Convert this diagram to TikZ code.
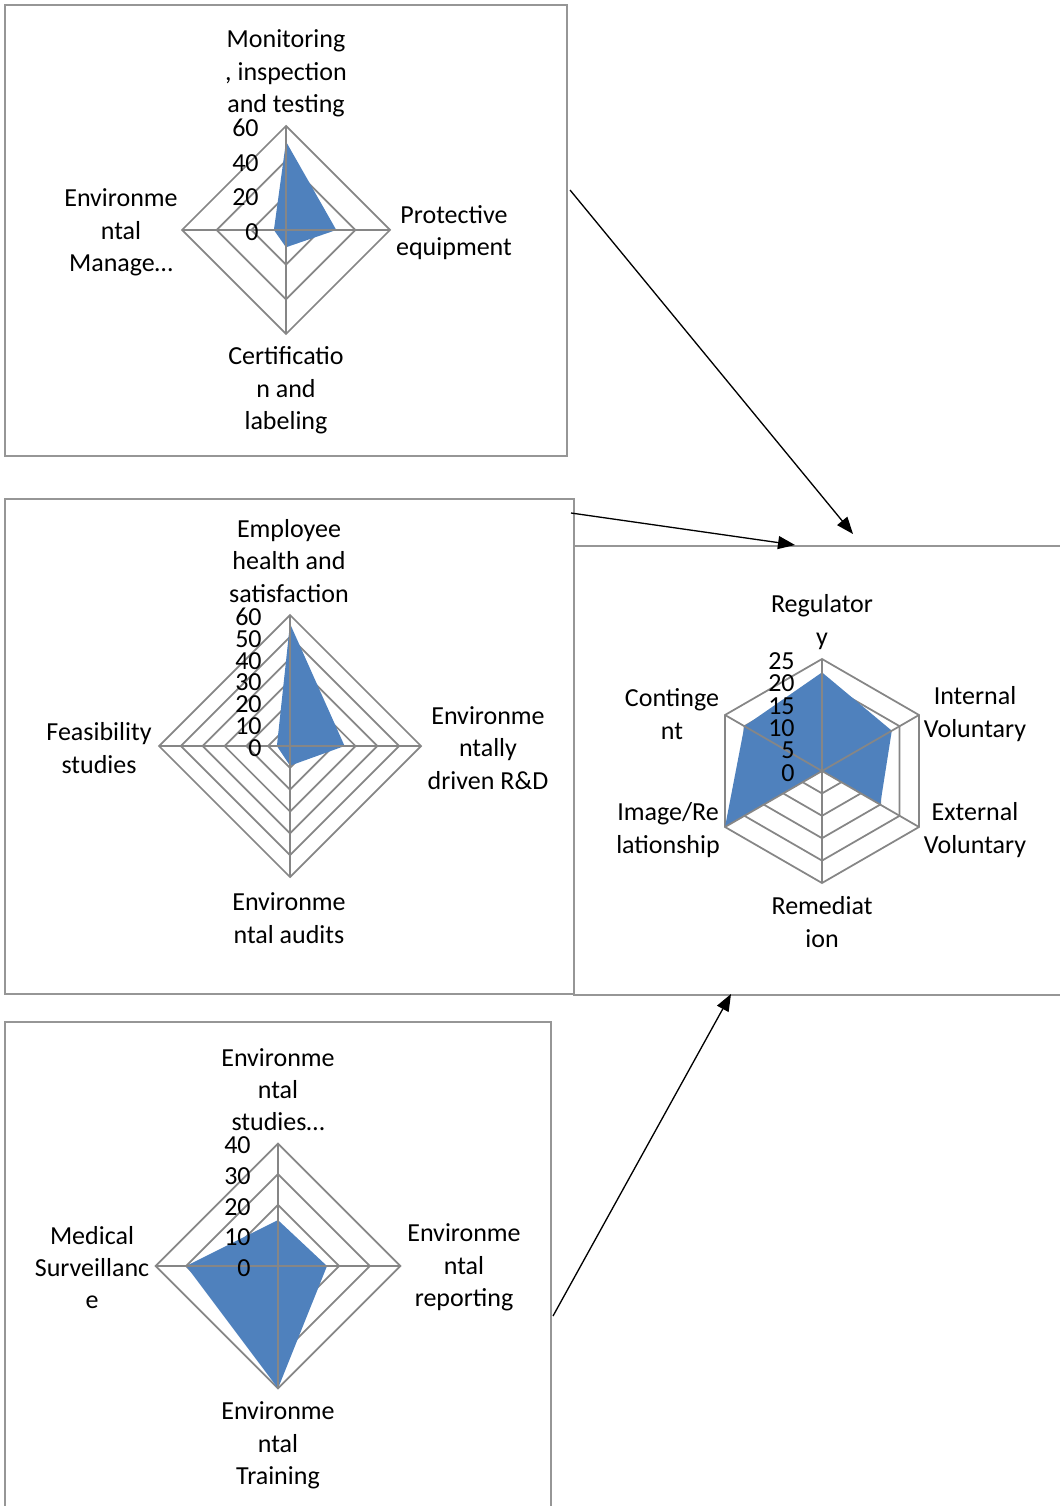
\documentclass[tikz,border=0pt]{standalone}
\usepackage{fontspec}
\setmainfont{Carlito}
\usetikzlibrary{positioning,arrows.meta}

\definecolor{seriesblue}{RGB}{79,129,189}
\definecolor{gridgray}{RGB}{134,134,134}
\definecolor{framegray}{RGB}{150,150,150}

\tikzset{
  panel/.style={draw=framegray, line width=0.75pt, rectangle, inner sep=0pt},
  gridline/.style={draw=gridgray, line width=1pt},
  seriesfill/.style={fill=seriesblue},
  catlabel/.style={align=center, inner sep=0pt, font=\fontsize{14.8}{18.4}\selectfont},
  ticklabel/.style={anchor=east, inner sep=0pt, font=\fontsize{14.8}{18.4}\selectfont},
  flow/.style={-{Triangle[length=3.4mm,width=2.6mm]}, line width=0.75pt, black}
}

\begin{document}
\begin{tikzpicture}[x=0.02cm, y=-0.02cm]
  \useasboundingbox (0,0) rectangle (1060,1506);

  % Panels
  \node[panel, minimum width=11.24cm, minimum height=9.02cm] (box-top) at (286,230.5) {};
  \node[panel, minimum width=11.38cm, minimum height=9.9cm] (box-mid) at (289.5,746.5) {};
  \node[panel, minimum width=10.02cm, minimum height=8.98cm] (box-drivers) at (824.5,770.5) {};
  \node[panel, minimum width=10.92cm, minimum height=9.96cm] (box-bottom) at (278,1271) {};

  % Top chart
  \foreach \r in {34.67,69.33,104}
    \draw[gridline] ({286},{230-\r}) -- ({286+\r},{230}) -- ({286},{230+\r}) -- ({286-\r},{230}) -- cycle;
  \fill[seriesfill] (286,141.6) -- (336.3,230) -- (286,247.3) -- (273.9,230) -- cycle;
  \draw[gridline] (286,126) -- (286,334) (182,230) -- (390,230);
  \foreach \v in {0,20,40,60}
    \node[ticklabel] (t1-\v) at (259,{232-\v/60*104}) {\v};
  \node[catlabel] (lab-mon) at (286,73.5) {Monitoring\\, inspection\\and testing};
  \node[catlabel] (lab-prot) at (454,232.5) {Protective\\equipment};
  \node[catlabel] (lab-cert) at (286,390.5) {Certificatio\\n and\\labeling};
  \node[catlabel] (lab-ems) at (121,232.5) {Environme\\ntal\\Manage…};

  % Middle chart
  \foreach \k in {1,...,6}
    \draw[gridline] ({290},{746-\k*21.833}) -- ({290+\k*21.833},{746}) -- ({290},{746+\k*21.833}) -- ({290-\k*21.833},{746}) -- cycle;
  \fill[seriesfill] (290,623.7) -- (344.6,746) -- (290,765.7) -- (276.9,746) -- cycle;
  \draw[gridline] (290,615) -- (290,877) (159,746) -- (421,746);
  \foreach \v in {0,10,...,60}
    \node[ticklabel] (t2-\v) at (262,{748-\v/60*131}) {\v};
  \node[catlabel] (lab-emp) at (289,561) {Employee\\health and\\satisfaction};
  \node[catlabel] (lab-rd) at (488,748) {Environme\\ntally\\driven R\&D};
  \node[catlabel] (lab-aud) at (289,918) {Environme\\ntal audits};
  \node[catlabel] (lab-feas) at (99,748) {Feasibility\\studies};

  % Drivers chart
  \foreach \k in {1,...,5}
    \draw[gridline] ({822},{771-\k*22.4}) \foreach \a in {30,-30,-90,-150,150} { -- ({822+\k*22.4*cos(\a)},{771-\k*22.4*sin(\a)}) } -- cycle;
  \fill[seriesfill] (822,672.4) -- (891.8,730.7) -- (880.2,804.6) -- (822,771) -- (725,827) -- (744.4,726.2) -- cycle;
  \foreach \a in {90,30,-30}
    \draw[gridline] ({822+112*cos(\a)},{771-112*sin(\a)}) -- ({822-112*cos(\a)},{771+112*sin(\a)});
  \foreach \v in {0,5,...,25}
    \node[ticklabel] (t3-\v) at (795,{773-\v/25*112}) {\v};
  \node[catlabel] (lab-reg) at (822,622) {Regulator\\y};
  \node[catlabel] (lab-int) at (975,714) {Internal\\Voluntary};
  \node[catlabel] (lab-ext) at (975,830) {External\\Voluntary};
  \node[catlabel] (lab-rem) at (822,922) {Remediat\\ion};
  \node[catlabel] (lab-img) at (668,830) {Image/Re\\lationship};
  \node[catlabel] (lab-con) at (672,714) {Continge\\nt};

  % Bottom chart
  \foreach \k in {1,...,4}
    \draw[gridline] ({278},{1266-\k*30.6}) -- ({278+\k*30.6},{1266}) -- ({278},{1266+\k*30.6}) -- ({278-\k*30.6},{1266}) -- cycle;
  \fill[seriesfill] (278,1220.1) -- (327,1266) -- (278,1388.4) -- (186.2,1266) -- cycle;
  \draw[gridline] (278,1143.6) -- (278,1388.4) (155.6,1266) -- (400.4,1266);
  \foreach \v in {0,10,...,40}
    \node[ticklabel] (t4-\v) at (251,{1268-\v/40*122.4}) {\v};
  \node[catlabel] (lab-stud) at (278,1089.5) {Environme\\ntal\\studies…};
  \node[catlabel] (lab-rep) at (464,1267.5) {Environme\\ntal\\reporting};
  \node[catlabel] (lab-trn) at (278,1445.5) {Environme\\ntal\\Training};
  \node[catlabel] (lab-med) at (92,1267.5) {Medical\\Surveillanc\\e};

  % Arrows to the drivers panel
  \coordinate (arr1-from) at (570,190);
  \coordinate (arr1-to) at (853,534);
  \coordinate (arr2-from) at (571,513);
  \coordinate (arr2-to) at (795,545);
  \coordinate (arr3-from) at (553,1316);
  \coordinate (arr3-to) at (731,994);
  \draw[flow] (arr1-from) -- (arr1-to);
  \draw[flow] (arr2-from) -- (arr2-to);
  \draw[flow] (arr3-from) -- (arr3-to);

\end{tikzpicture}
\end{document}
